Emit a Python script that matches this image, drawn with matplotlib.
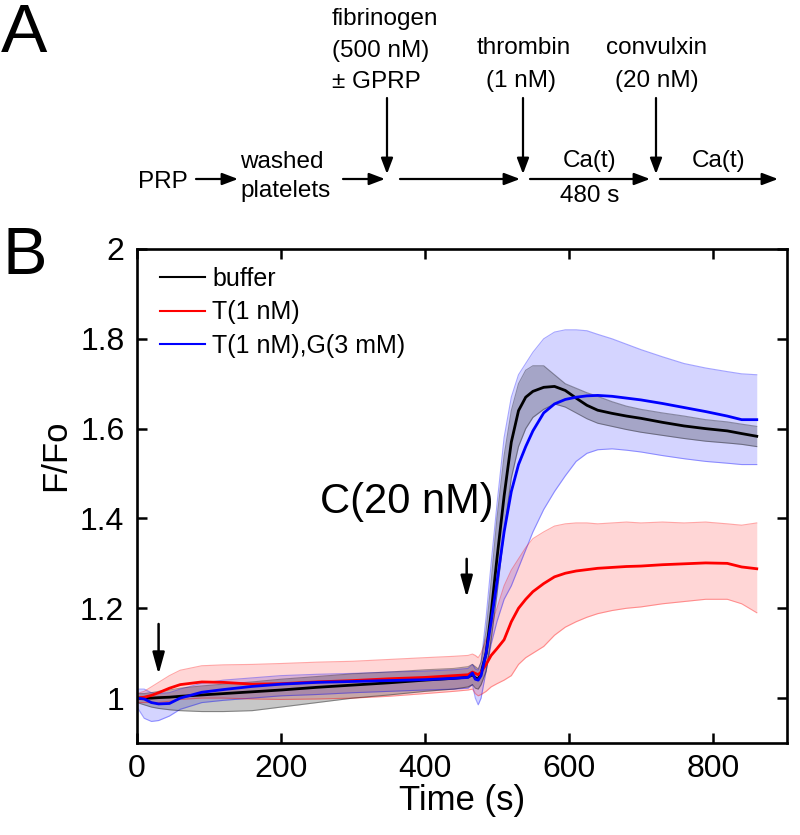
import numpy as np
import matplotlib
matplotlib.use('Agg')
import matplotlib.pyplot as plt
from matplotlib.ticker import FuncFormatter

plt.rcParams['font.family'] = ['Liberation Sans', 'DejaVu Sans']

# time points (s)
time_s = [0, 10, 20, 30, 45, 60, 90, 120, 160, 200, 250, 300, 350, 400, 440, 460, 466, 470, 474, 478,
          485, 492, 500, 510, 520, 530, 540, 550, 565, 580, 595, 610, 625, 640, 660, 680, 700, 730, 760, 790,
          820, 840, 861]

# buffer (black) mean and band
buffer_mean = [1.000, 1.000, 1.000, 1.001, 1.002, 1.004, 1.007, 1.010, 1.014, 1.018, 1.024, 1.029, 1.034, 1.040,
               1.044, 1.047, 1.052, 1.045, 1.042, 1.055, 1.10, 1.19, 1.31, 1.45, 1.57, 1.64, 1.67, 1.683, 1.692,
               1.694, 1.685, 1.668, 1.652, 1.641, 1.634, 1.628, 1.623, 1.614, 1.606, 1.600, 1.595, 1.589, 1.583]
buffer_hi = [1.01, 1.01, 1.012, 1.015, 1.018, 1.022, 1.027, 1.031, 1.036, 1.042, 1.048, 1.054, 1.058, 1.063,
             1.066, 1.07, 1.075, 1.07, 1.065, 1.08, 1.15, 1.26, 1.40, 1.54, 1.64, 1.70, 1.73, 1.74, 1.74,
             1.72, 1.70, 1.69, 1.68, 1.672, 1.66, 1.65, 1.643, 1.635, 1.628, 1.62, 1.615, 1.61, 1.605]
buffer_lo = [0.99, 0.985, 0.98, 0.977, 0.974, 0.972, 0.970, 0.970, 0.972, 0.98, 0.99, 1.0, 1.007, 1.015,
             1.02, 1.025, 1.03, 1.022, 1.02, 1.03, 1.06, 1.13, 1.23, 1.37, 1.49, 1.56, 1.60, 1.625, 1.643,
             1.655, 1.648, 1.635, 1.622, 1.612, 1.605, 1.598, 1.592, 1.585, 1.578, 1.572, 1.568, 1.565, 1.56]

# T(1 nM) (red)
t_mean = [1.000, 1.002, 1.006, 1.012, 1.022, 1.030, 1.036, 1.035, 1.031, 1.032, 1.036, 1.039, 1.043, 1.046,
          1.050, 1.052, 1.058, 1.055, 1.052, 1.058, 1.075, 1.095, 1.11, 1.13, 1.17, 1.20, 1.22, 1.237, 1.255,
          1.27, 1.278, 1.283, 1.286, 1.289, 1.291, 1.293, 1.294, 1.297, 1.299, 1.301, 1.300, 1.292, 1.288]
t_hi = [1.01, 1.015, 1.025, 1.035, 1.05, 1.062, 1.072, 1.074, 1.075, 1.077, 1.08, 1.082, 1.086, 1.09,
        1.093, 1.095, 1.098, 1.095, 1.09, 1.10, 1.13, 1.16, 1.20, 1.25, 1.285, 1.31, 1.335, 1.355, 1.37,
        1.383, 1.388, 1.39, 1.39, 1.388, 1.39, 1.392, 1.39, 1.392, 1.39, 1.392, 1.388, 1.385, 1.39]
t_lo = [0.99, 0.99, 0.99, 0.99, 0.993, 0.997, 1.0, 1.0, 0.998, 0.997, 0.998, 1.0, 1.004, 1.01,
        1.015, 1.018, 1.02, 1.01, 1.005, 1.008, 1.015, 1.025, 1.032, 1.04, 1.05, 1.075, 1.09, 1.10, 1.115,
        1.14, 1.158, 1.17, 1.18, 1.188, 1.195, 1.2, 1.203, 1.21, 1.215, 1.22, 1.22, 1.21, 1.19]

# T(1 nM),G(3 mM) (blue)
tg_mean = [1.000, 0.998, 0.990, 0.987, 0.988, 1.000, 1.013, 1.019, 1.026, 1.031, 1.035, 1.037, 1.039, 1.041,
           1.044, 1.046, 1.056, 1.042, 1.040, 1.05, 1.10, 1.17, 1.257, 1.37, 1.46, 1.52, 1.56, 1.595, 1.635,
           1.655, 1.665, 1.670, 1.673, 1.674, 1.672, 1.668, 1.664, 1.656, 1.647, 1.638, 1.628, 1.62, 1.62]
tg_hi = [1.02, 1.02, 1.012, 1.01, 1.012, 1.02, 1.033, 1.04, 1.045, 1.05, 1.053, 1.055, 1.058, 1.06,
         1.063, 1.066, 1.075, 1.065, 1.062, 1.08, 1.18, 1.30, 1.43, 1.58, 1.67, 1.72, 1.745, 1.77, 1.80,
         1.815, 1.82, 1.82, 1.818, 1.81, 1.80, 1.788, 1.776, 1.76, 1.745, 1.735, 1.727, 1.722, 1.72]
tg_lo = [0.98, 0.955, 0.948, 0.95, 0.96, 0.975, 0.99, 0.995, 1.0, 1.005, 1.008, 1.012, 1.015, 1.018,
         1.02, 1.022, 1.03, 1.0, 0.985, 1.0, 1.06, 1.12, 1.17, 1.22, 1.25, 1.29, 1.33, 1.37, 1.42,
         1.46, 1.495, 1.527, 1.545, 1.553, 1.555, 1.552, 1.548, 1.54, 1.533, 1.527, 1.523, 1.52, 1.52]

labels = ['buffer', 'T(1 nM)', 'T(1 nM),G(3 mM)']
x_ticks = [0, 200, 400, 600, 800]
y_ticks = [1.0, 1.2, 1.4, 1.6, 1.8, 2.0]

fig = plt.figure(figsize=(8, 8.35), dpi=100)

# ---------------- panel A: protocol diagram (pixel coordinates) ----------------
axA = fig.add_axes([0, 0, 1, 1])
axA.set_xlim(0, 800)
axA.set_ylim(835, 0)
axA.axis('off')

fs = 17.5
arr = dict(arrowstyle='-|>,head_length=0.95,head_width=0.36', lw=1.6, color='k',
           shrinkA=0, shrinkB=0, mutation_scale=10)

def harrow(x0, x1, y=179):
    axA.annotate('', xy=(x1, y), xytext=(x0, y), arrowprops=arr)

def varrow(x, y0=98, y1=174):
    axA.annotate('', xy=(x, y1), xytext=(x, y0), arrowprops=arr)

axA.text(1, 34, 'A', fontsize=50, ha='left', va='center')
axA.text(138, 182, 'PRP', fontsize=fs, ha='left', va='center')
harrow(196, 238)
axA.text(240, 162, 'washed', fontsize=fs, ha='left', va='center')
axA.text(240, 191, 'platelets', fontsize=fs, ha='left', va='center')
harrow(343, 385)
axA.text(332, 25, 'fibrinogen', fontsize=fs, ha='left', va='baseline')
axA.text(332, 57, '(500 nM)', fontsize=fs, ha='left', va='baseline')
axA.text(332, 88, '± GPRP', fontsize=fs, ha='left', va='baseline')
varrow(387)
harrow(400, 520)
axA.text(524, 54, 'thrombin', fontsize=fs, ha='center', va='baseline')
axA.text(521, 87, '(1 nM)', fontsize=fs, ha='center', va='baseline')
varrow(523)
harrow(530, 650)
axA.text(590, 167, 'Ca(t)', fontsize=fs, ha='center', va='baseline')
axA.text(590, 202, '480 s', fontsize=fs, ha='center', va='baseline')
axA.text(657, 54, 'convulxin', fontsize=fs, ha='center', va='baseline')
axA.text(657, 87, '(20 nM)', fontsize=fs, ha='center', va='baseline')
varrow(656)
harrow(660, 778)
axA.text(719, 167, 'Ca(t)', fontsize=fs, ha='center', va='baseline')

# ---------------- panel B: calcium traces ----------------
ax = fig.add_axes([137 / 800, 92 / 835, 650 / 800, 494 / 835])

series = [(buffer_mean, buffer_lo, buffer_hi, 'black', 0.22),
          (t_mean, t_lo, t_hi, 'red', 0.16),
          (tg_mean, tg_lo, tg_hi, 'blue', 0.17)]

for mean, lo, hi, col, a in [series[2], series[1], series[0]]:
    ax.fill_between(time_s, lo, hi, color=col, alpha=a, lw=0)
    ax.plot(time_s, lo, color=col, alpha=0.35, lw=0.8)
    ax.plot(time_s, hi, color=col, alpha=0.35, lw=0.8)

handles = []
for mean, lo, hi, col, a in series:
    h, = ax.plot(time_s, mean, color=col, lw=2.0)
    handles.append(h)

ax.set_xlim(0, 903)
ax.set_ylim(0.9, 2.0)
ax.set_xticks(x_ticks)
ax.set_yticks(y_ticks)
ax.yaxis.set_major_formatter(FuncFormatter(lambda v, p: f'{v:g}'))
ax.tick_params(direction='in', top=True, right=True, length=7.5, width=1.8, labelsize=23)
ax.tick_params(axis='y', pad=9)
ax.tick_params(axis='x', pad=8)
for s in ax.spines.values():
    s.set_linewidth(1.9)

ax.set_xlabel('Time (s)', fontsize=25, labelpad=0)
ax.set_ylabel('F/Fo', fontsize=25)
ax.yaxis.set_label_coords(-0.1, 0.583)

leg = ax.legend(handles, labels, loc='upper left', bbox_to_anchor=(23 / 650, 1 - 18 / 494),
                frameon=False, fontsize=18, handlelength=1.8, handletextpad=0.3,
                labelspacing=0.38, borderaxespad=0, borderpad=0)
for lh in leg.get_lines():
    lh.set_linewidth(1.5)

ax.annotate('', xy=(30, 1.053), xytext=(30, 1.165), arrowprops=dict(
    arrowstyle='-|>,head_length=1.3,head_width=0.36', lw=1.8, color='k',
    shrinkA=0, shrinkB=0, mutation_scale=10))
ax.annotate('', xy=(458, 1.224), xytext=(458, 1.31), arrowprops=dict(
    arrowstyle='-|>,head_length=1.3,head_width=0.36', lw=1.8, color='k',
    shrinkA=0, shrinkB=0, mutation_scale=10))
ax.text(375, 1.413, 'C(20 nM)', fontsize=30, ha='center', va='baseline')

fig.text(2, 835 - 257, 'B', fontsize=48, ha='left', va='center', transform=None)

fig.savefig('out.png', dpi=100)
